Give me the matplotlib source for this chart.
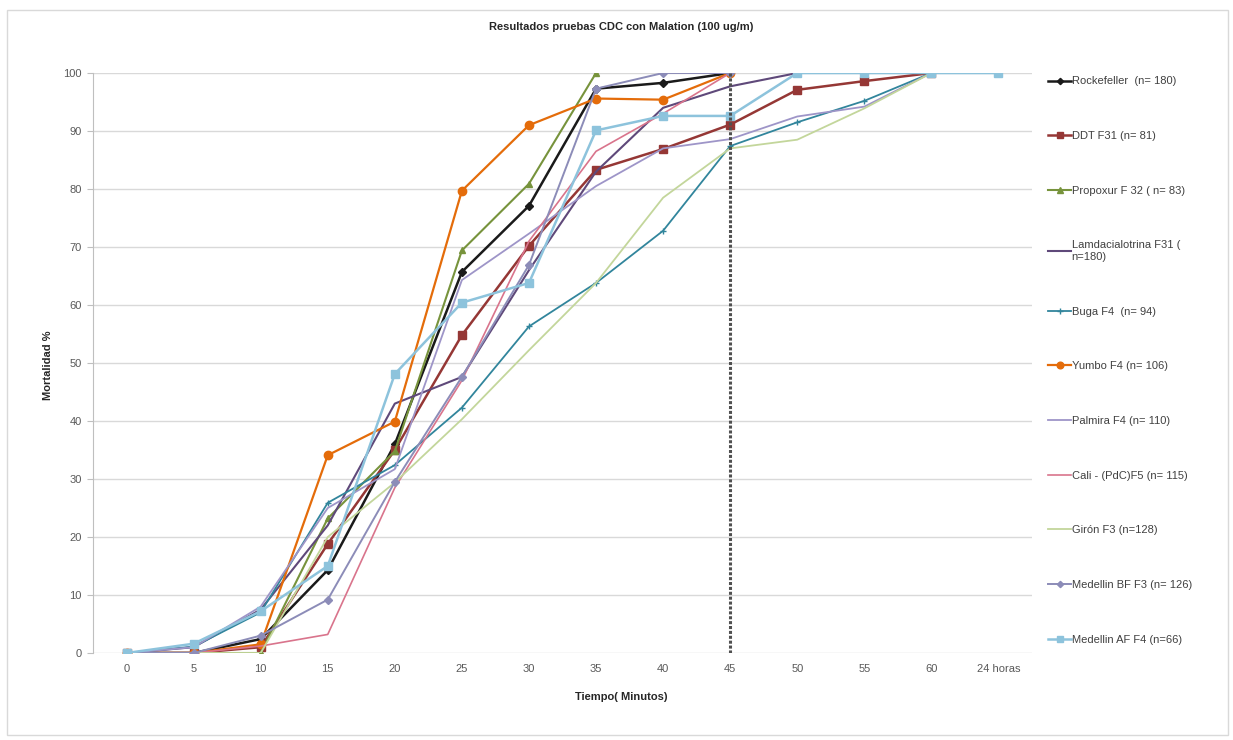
import numpy as np
import matplotlib.pyplot as plt
from matplotlib.patches import Rectangle

plt.rcParams['font.family'] = ['Liberation Sans', 'DejaVu Sans']

nan = np.nan
tiempos = ['0', '5', '10', '15', '20', '25', '30', '35', '40', '45', '50', '55', '60', '24 horas']
corte = '45'  # linea vertical punteada

rockefeller = [0, 0, 2.4, 14.3, 36.0, 65.7, 77.1, 97.3, 98.3, 100, nan, nan, nan, nan]
ddt = [0, 0, 1.0, 18.8, 35.0, 54.8, 70.2, 83.3, 86.9, 91.1, 97.1, 98.6, 100, nan]
propoxur = [0, 0, 0, 23.2, 34.8, 69.4, 80.9, 100, nan, nan, nan, nan, nan, nan]
lamda = [0, 1.0, 7.5, 22.0, 43.0, 47.6, 66.0, 83.0, 94.0, 97.7, 100, nan, nan, nan]
buga = [0, 1.1, 7.0, 25.9, 32.4, 42.3, 56.3, 63.8, 72.8, 87.4, 91.5, 95.2, 100, nan]
yumbo = [0, 0, 1.5, 34.1, 39.9, 79.7, 91.0, 95.6, 95.4, 100, nan, nan, nan, nan]
palmira = [0, 1.0, 8.0, 25.0, 31.7, 64.3, 72.3, 80.5, 87.0, 88.6, 92.5, 94.2, 100, nan]
cali = [0, 0, 1.2, 3.2, 28.5, 47.0, 71.0, 86.5, 93.0, 100, nan, nan, nan, nan]
giron = [0, 0, 0, 20.0, 29.4, 40.3, 52.2, 63.8, 78.5, 87.0, 88.5, 93.9, 100, nan]
medellin_bf = [0, 0, 3.0, 9.2, 29.5, 47.6, 66.9, 97.3, 100, 100, nan, nan, nan, nan]
medellin_af = [0, 1.6, 7.2, 15.0, 48.1, 60.4, 63.8, 90.1, 92.6, 92.6, 100, 100, 100, 100]

series = [
    ('Rockefeller  (n= 180)', rockefeller, '#1a1a1a', 'D', 4, 1.8),
    ('DDT F31 (n= 81)', ddt, '#953735', 's', 6, 1.8),
    ('Propoxur F 32 ( n= 83)', propoxur, '#77933C', '^', 5, 1.5),
    ('Lamdacialotrina F31 (\nn=180)', lamda, '#5F497A', '', 0, 1.5),
    ('Buga F4  (n= 94)', buga, '#31859C', '+', 5, 1.3),
    ('Yumbo F4 (n= 106)', yumbo, '#E46C0A', 'o', 6, 1.6),
    ('Palmira F4 (n= 110)', palmira, '#9E95C8', '', 0, 1.3),
    ('Cali - (PdC)F5 (n= 115)', cali, '#D9748C', '', 0, 1.2),
    ('Girón F3 (n=128)', giron, '#C3D69B', '', 0, 1.3),
    ('Medellin BF F3 (n= 126)', medellin_bf, '#8C8CB8', 'D', 4, 1.4),
    ('Medellin AF F4 (n=66)', medellin_af, '#8DC3DC', 's', 6, 1.8),
]

fig = plt.figure(figsize=(12.33, 7.40), dpi=100)
ax = fig.add_axes([93/1233, 87/740, (1032-93)/1233, (653-73)/740])

x = np.arange(len(tiempos))
for nombre, vals, col, mk, ms, lw in series:
    ax.plot(x, np.array(vals, dtype=float), color=col, marker=mk if mk else None,
            markersize=ms, linewidth=lw, label=nombre)

ax.vlines(tiempos.index(corte), 0, 100, colors='#505050', linestyles=(0, (1, 0.6)), linewidth=2.2)

ax.set_xlim(-0.5, len(tiempos) - 0.5)
ax.set_ylim(0, 100)
ax.set_xticks(x)
ax.set_xticklabels(tiempos)
ax.set_yticks(np.arange(0, 101, 10))
ax.tick_params(axis='x', length=0, pad=8, labelsize=8, colors='#595959')
ax.tick_params(axis='y', length=4, pad=4, labelsize=8, colors='#595959', color='#BFBFBF')
ax.yaxis.grid(True, color='#D9D9D9', linewidth=1)
ax.set_axisbelow(True)
for s in ['top', 'right', 'bottom']:
    ax.spines[s].set_visible(False)
ax.spines['left'].set_color('#BFBFBF')

fig.text(621/1233, 1 - 27/740, 'Resultados pruebas CDC con Malation (100 ug/m)',
         ha='center', va='center', fontsize=8, fontweight='bold', color='#262626')
fig.text(621/1233, 1 - 697/740, 'Tiempo( Minutos)', ha='center', va='center',
         fontsize=8, fontweight='bold', color='#262626')
fig.text(48/1233, 1 - 365/740, 'Mortalidad %', ha='center', va='center', rotation=90,
         fontsize=8, fontweight='bold', color='#262626')

ax.legend(loc='upper left', bbox_to_anchor=(1044/1233, 1 - 72/740),
          bbox_transform=fig.transFigure, frameon=False, fontsize=8,
          handlelength=2.0, handletextpad=0.1, labelspacing=4.02,
          borderaxespad=0, markerscale=0.8, labelcolor='#404040')

fig.patches.append(Rectangle((7/1233, 5/740), 1221/1233, 725/740, transform=fig.transFigure,
                             fill=False, edgecolor='#D9D9D9', linewidth=1))

fig.savefig('out.png', dpi=100)
